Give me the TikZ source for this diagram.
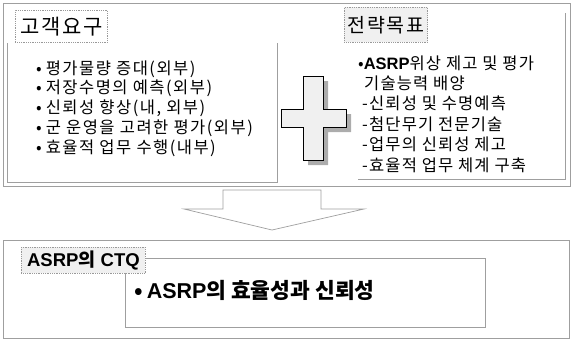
\documentclass[tikz,border=0pt]{standalone}
\usepackage{fontspec}
\setmainfont{Noto Sans CJK KR}
\newfontfamily\lat{Liberation Sans}
\begin{document}
\begin{tikzpicture}[x=1pt,y=-1pt,
  frame/.style={draw=gray!75,line width=0.9pt},
  lbl/.style={draw=gray!80,densely dotted,line width=0.8pt},
  item/.style={anchor=west,inner sep=0pt,font=\fontsize{16.5}{18}\selectfont\addfontfeatures{LetterSpace=9}},
  ritem/.style={anchor=west,inner sep=0pt,font=\fontsize{16.5}{18}\selectfont\addfontfeatures{LetterSpace=7}}]
\useasboundingbox (0,0) rectangle (573,341);
% top frame
\draw[frame] (3,3) rectangle (570,186);
% left content box
\draw[frame] (7,43) -- (7,182) -- (277,182) -- (277,43);
% right content box
\draw[frame] (358,179) -- (565,179) -- (565,13);
% labels
\node[lbl,fill=white,minimum width=92pt,minimum height=32pt,anchor=north west,
  font=\fontsize{21}{22}\selectfont\addfontfeatures{LetterSpace=8}] (cust) at (15,10) {고객요구};
\node[lbl,fill=gray!12,minimum width=76pt,minimum height=35pt,anchor=north west,
  font=\fontsize{19.5}{22}\selectfont\addfontfeatures{LetterSpace=8}] (goal) at (344,7) {전략목표};
% left list
\node[item] (l1) at (36,69) {•\hspace{4pt}평가물량 증대(외부)};
\node[item] (l2) at (36,88.5) {•\hspace{4pt}저장수명의 예측(외부)};
\node[item] (l3) at (36,108) {•\hspace{4pt}신뢰성 향상(내, 외부)};
\node[item] (l4) at (36,128) {•\hspace{4pt}군 운영을 고려한 평가(외부)};
\node[item] (l5) at (36,148) {•\hspace{4pt}효율적 업무 수행(내부)};
% right list
\node[ritem] (r1) at (358,63) {•{\lat\bfseries ASRP}위상 제고 및 평가};
\node[ritem] (r2) at (364,83) {기술능력 배양};
\node[ritem] (r3) at (362,103.5) {-신뢰성 및 수명예측};
\node[ritem] (r4) at (362,124) {-첨단무기 전문기술};
\node[ritem] (r5) at (362,144.5) {-업무의 신뢰성 제고};
\node[ritem] (r6) at (362,165) {-효율적 업무 체계 구축};
% cross with shadow
\fill[gray!65] (308,81) -- (328,81) -- (328,114) -- (351,114) -- (351,132) -- (328,132) -- (328,165) -- (308,165) -- cycle;
\draw[black,line width=0.9pt,fill=gray!12] (303,76) -- (323,76) -- (323,109) -- (346,109) -- (346,127) -- (323,127) -- (323,160) -- (303,160) -- (303,127) -- (281,127) -- (281,109) -- (303,109) -- cycle;
% down arrow
\draw[frame,fill=white,line width=0.7pt] (223,190) -- (321,190) -- (321,209) -- (364,209) -- (272,230) -- (184,209) -- (223,209) -- cycle;
% bottom frame
\draw[frame] (3,240) rectangle (569,338);
\draw[frame] (125,258) rectangle (485,327);
\node[lbl,fill=gray!12,minimum width=124pt,minimum height=22pt,anchor=north west,
  font=\lat\bfseries\fontsize{18.5}{20}\selectfont] (ctq) at (21,247) {ASRP{\normalfont\bfseries\fontsize{18.5}{20}\selectfont 의} CTQ};
\node[anchor=west,inner sep=0pt,font=\fontsize{21.5}{24}\selectfont\bfseries] (main) at (134,290)
  {•\hspace{4pt}{\lat ASRP}의 효율성과 신뢰성};
\end{tikzpicture}
\end{document}
